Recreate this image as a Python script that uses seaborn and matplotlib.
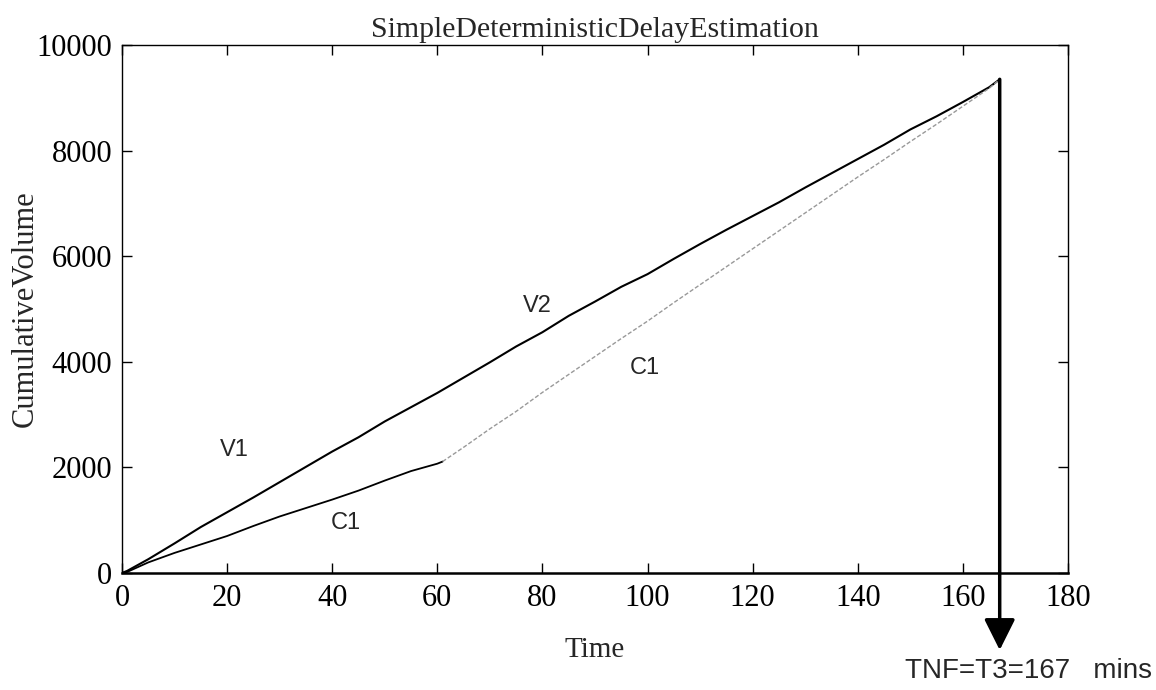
import matplotlib
matplotlib.use("Agg")
import matplotlib.pyplot as plt
import pandas as pd
import seaborn as sns

# Cumulative arrivals (V1 then V2)
v_time = [0, 1, 5, 10, 15, 20, 25, 30, 35, 40, 45, 50, 55, 60, 65, 70, 75, 80,
          85, 90, 95, 100, 105, 110, 115, 120, 125, 130, 135, 140, 145, 150,
          155, 160, 165, 167]
v_volume = [0, 40, 260, 560, 870, 1150, 1430, 1720, 2010, 2300, 2570, 2870, 3140,
            3410, 3700, 3990, 4290, 4560, 4870, 5140, 5420, 5660, 5950, 6230,
            6500, 6760, 7020, 7300, 7570, 7840, 8110, 8400, 8650, 8920, 9200, 9350]

# Capacity C1 before 60 min (solid) and after (dotted grey)
c1_time = [0, 1, 5, 10, 15, 20, 25, 30, 35, 40, 45, 50, 55, 60, 61]
c1_volume = [0, 20, 200, 380, 540, 700, 890, 1070, 1230, 1390, 1560, 1750,
             1930, 2070, 2110]
c2_time = [61, 65, 70, 75, 80, 85, 90, 95, 100, 105, 110, 115, 120, 125, 130,
           135, 140, 145, 150, 155, 160, 165, 167]
c2_volume = [2110, 2380, 2730, 3060, 3420, 3760, 4100, 4440, 4770, 5120, 5460,
             5800, 6140, 6480, 6820, 7160, 7500, 7830, 8170, 8500, 8840, 9180, 9350]

labels = ["V1", "V2", "C1", "C1"]
label_x = [21.3, 79.0, 99.5, 42.5]
label_y = [2320, 5050, 3880, 950]

t_end = 167

sns.set_style("ticks")
plt.rcParams['font.family'] = ['Liberation Serif', 'DejaVu Serif']

fig = plt.figure(figsize=(11.56, 6.9), dpi=100)
ax = fig.add_axes([0.1055, 0.1696, 0.8184, 0.7652])

v_df = pd.DataFrame({'Time': v_time, 'Volume': v_volume})
c1_df = pd.DataFrame({'Time': c1_time, 'Volume': c1_volume})
c2_df = pd.DataFrame({'Time': c2_time, 'Volume': c2_volume})

sns.lineplot(data=v_df, x='Time', y='Volume', ax=ax, color='black', lw=1.5)
sns.lineplot(data=c1_df, x='Time', y='Volume', ax=ax, color='black', lw=1.3)
sns.lineplot(data=c2_df, x='Time', y='Volume', ax=ax, color='#999999', lw=1.0,
             linestyle=(0, (3, 1.5)))

ax.set_xlim(0, 180)
ax.set_ylim(0, 10000)
ax.set_xticks(range(0, 181, 20))
ax.set_yticks(range(0, 10001, 2000))
ax.tick_params(direction='in', length=7, width=1, top=True, right=True,
               labelsize=22, colors='black')
ax.tick_params(axis='x', pad=8)
ax.tick_params(axis='y', pad=7)
for side in ['left', 'top', 'right']:
    ax.spines[side].set_linewidth(1.0)
    ax.spines[side].set_color('black')
ax.spines['bottom'].set_linewidth(1.8)
ax.spines['bottom'].set_color('black')

ax.set_title('SimpleDeterministicDelayEstimation', fontsize=21.5, pad=6)
ax.set_xlabel('Time', fontsize=21, labelpad=17)
ax.set_ylabel('CumulativeVolume', fontsize=22, labelpad=-2)

for txt, x, y in zip(labels, label_x, label_y):
    ax.text(x, y, txt, fontsize=17, family=['Liberation Sans', 'DejaVu Sans'],
            ha='center', va='center')

# arrow marking the end of the delay period
ax.annotate('', xy=(t_end, -1460), xytext=(t_end, v_volume[-1]),
            annotation_clip=False,
            arrowprops=dict(arrowstyle='-|>,head_length=1.9,head_width=0.95',
                            color='black', lw=2.5, shrinkA=0, shrinkB=0))
fig.text(905 / 1156, 1 - 678 / 690, 'TNF=T3=%d   mins' % t_end, fontsize=20,
         family=['Liberation Sans', 'DejaVu Sans'], ha='left', va='baseline')

plt.savefig('out.png', dpi=100)
